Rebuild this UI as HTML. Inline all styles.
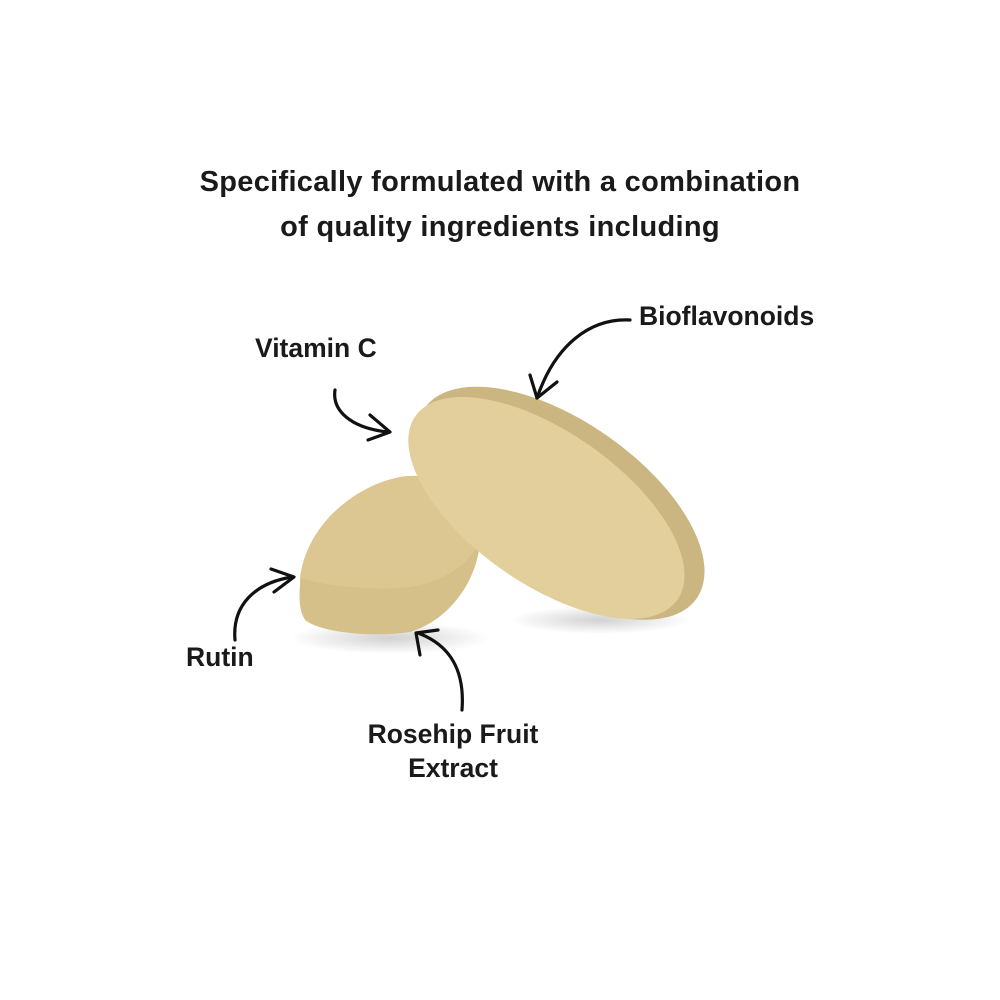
<!DOCTYPE html>
<html><head><meta charset="utf-8"><style>
html,body{margin:0;padding:0;background:#fff;}
body{width:1000px;height:1000px;position:relative;overflow:hidden;font-family:"Liberation Sans",sans-serif;color:#1a1a1a;}
.t{position:absolute;white-space:nowrap;font-weight:bold;}
</style></head><body>
<div class="t" style="left:0;width:1000px;text-align:center;top:160px;font-size:29px;line-height:45px;letter-spacing:0.3px;">Specifically formulated with a combination<br>of quality ingredients including</div>
<div class="t" style="left:255px;top:333px;font-size:26.5px;">Vitamin C</div>
<div class="t" style="left:639px;top:301px;font-size:26.5px;">Bioflavonoids</div>
<div class="t" style="left:186px;top:642px;font-size:26.5px;">Rutin</div>
<div class="t" style="left:353px;top:717px;font-size:26.5px;line-height:34px;text-align:center;width:200px;">Rosehip Fruit<br>Extract</div>
<svg width="1000" height="1000" style="position:absolute;left:0;top:0">
<defs>
<radialGradient id="sh" cx="50%" cy="50%" r="50%"><stop offset="0" stop-color="#000" stop-opacity="0.18"/><stop offset="1" stop-color="#000" stop-opacity="0"/></radialGradient>
</defs>
<ellipse cx="390" cy="638" rx="100" ry="16" fill="url(#sh)"/>
<ellipse cx="600" cy="620" rx="90" ry="14" fill="url(#sh)"/>
<path d="M300 585 C300 540 340 490 400 477 C440 470 470 495 480 540 C478 580 450 620 410 632 C370 638 320 632 305 620 C299 610 299 598 300 585 Z" fill="#d6c08a"/>
<path d="M300 578 C305 535 345 488 400 477 C440 470 470 495 480 540 C470 565 440 585 400 588 C360 590 320 584 300 578 Z" fill="#dcc793"/>
<g transform="rotate(35 550 508)">
<ellipse cx="556" cy="498" rx="166" ry="82" fill="#cbb682"/>
<ellipse cx="547" cy="510" rx="160" ry="76" fill="#e2cf9c"/>
</g>
<g fill="none" stroke="#111" stroke-width="3.2" stroke-linecap="round" stroke-linejoin="round">
<path d="M335 390 C332 410 350 428 388 432"/><path d="M370 415 L390 432 L368 440"/>
<path d="M630 320 C590 318 555 345 537 398"/><path d="M530 375 L537 398 L557 382"/>
<path d="M235 640 C232 605 255 583 292 577"/><path d="M271 569 L294 577 L274 592"/>
<path d="M462 710 C465 670 450 645 418 633"/><path d="M420 655 L416 633 L438 630"/>
</g>
</svg>
</body></html>
